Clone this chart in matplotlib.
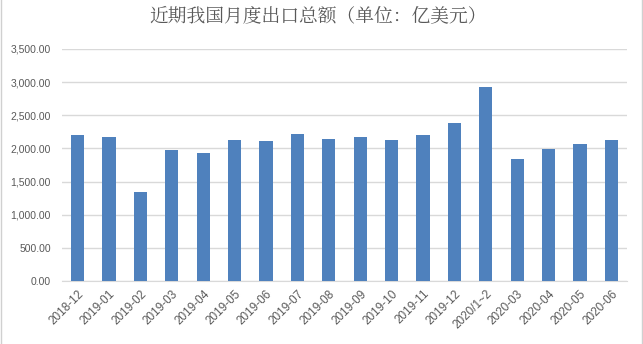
import matplotlib.pyplot as plt
from matplotlib.ticker import FuncFormatter

# Monthly export totals (100 million USD).
months = [
    "2018-12", "2019-01", "2019-02", "2019-03", "2019-04", "2019-05",
    "2019-06", "2019-07", "2019-08", "2019-09", "2019-10", "2019-11",
    "2019-12", "2020/1~2", "2020-03", "2020-04", "2020-05", "2020-06",
]
exports = [
    2205, 2175, 1345, 1978, 1935, 2129,
    2114, 2220, 2144, 2174, 2129, 2205,
    2386, 2929, 1842, 1993, 2069, 2129,
]
y_ticks = [0, 500, 1000, 1500, 2000, 2500, 3000, 3500]

text_color = "#595959"
bar_color = "#4F81BD"
grid_color = "#D9D9D9"

fig = plt.figure(figsize=(6.43, 3.44), dpi=100)
ax = fig.add_axes([62 / 643, 1 - 281 / 344, 565 / 643, 232 / 344])

x = range(len(months))
ax.bar(x, exports, width=0.42, color=bar_color, zorder=3)

ax.set_xlim(-0.5, len(months) - 0.5)
ax.set_ylim(0, 3500)
ax.set_yticks(y_ticks)
ax.yaxis.set_major_formatter(FuncFormatter(lambda v, _: f"{v:,.2f}"))
ax.set_xticks(list(x))
ax.set_xticklabels(months, rotation=45, ha="right", rotation_mode="anchor")

ax.grid(axis="y", color=grid_color, linewidth=1, zorder=0)
for side in ("top", "right", "left"):
    ax.spines[side].set_visible(False)
ax.spines["bottom"].set_color(grid_color)
ax.tick_params(axis="both", length=0, colors=text_color, labelsize=7.5,
               labelfontfamily="Liberation Sans")
ax.tick_params(axis="x", labelsize=8.5, pad=5)
ax.tick_params(axis="y", pad=8)

fig.text(318 / 643, 1 - 17 / 344, "近期我国月度出口总额（单位：亿美元）",
         ha="center", va="center", fontsize=13.5, color=text_color,
         family=["Noto Serif CJK SC", "Noto Sans CJK SC", "DejaVu Sans"])

# Thin frame lines at the image edges, as in the screenshot.
fig.add_artist(plt.Line2D([0.5 / 643, 0.5 / 643], [0, 1], color="#D0D0D0",
                          linewidth=1, transform=fig.transFigure))
fig.add_artist(plt.Line2D([641.5 / 643, 641.5 / 643], [0, 1], color="#D0D0D0",
                          linewidth=1, transform=fig.transFigure))

fig.savefig("out.png", dpi=100)
